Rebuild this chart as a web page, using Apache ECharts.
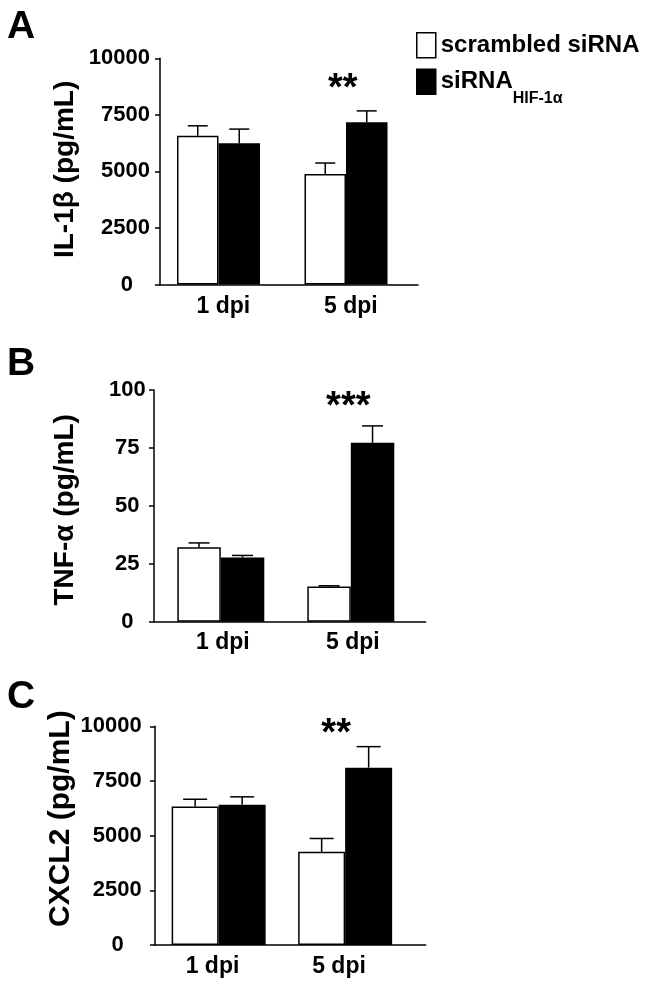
<!DOCTYPE html>
<html><head><meta charset="utf-8">
<script src="https://cdn.jsdelivr.net/npm/echarts@6/dist/echarts.min.js"></script>
<style>html,body{margin:0;padding:0;background:#fff}#c{width:646px;height:987px}</style>
</head><body><div id="c"></div>
<script>
// ---------- data ----------
const categories = ['1 dpi', '5 dpi'];
const seriesNames = ['scrambled siRNA', 'siRNA HIF-1α'];

const il1bScrambled = [6575, 4880];
const il1bScrambledErr = [440, 490];
const il1bHif = [6250, 7175];
const il1bHifErr = [620, 500];

const tnfScrambled = [32.1, 15.2];
const tnfScrambledErr = [1.9, 0.3];
const tnfHif = [27.7, 77.2];
const tnfHifErr = [0.9, 7.3];

const cxcl2Scrambled = [6330, 4260];
const cxcl2ScrambledErr = [335, 610];
const cxcl2Hif = [6410, 8110];
const cxcl2HifErr = [365, 960];

const il1bTicks = [0, 2500, 5000, 7500, 10000];
const tnfTicks = [0, 25, 50, 75, 100];
const cxcl2Ticks = [0, 2500, 5000, 7500, 10000];

const il1bSig = ['', '**'];
const tnfSig = ['', '***'];
const cxcl2Sig = ['', '**'];

const panelLetters = ['A', 'B', 'C'];
const yTitles = ['IL-1β (pg/mL)', 'TNF-α (pg/mL)', 'CXCL2 (pg/mL)'];

// ---------- layout / style ----------
const FONT = "'Liberation Sans', Arial, Helvetica, sans-serif";
const panels = [
  { ticks: il1bTicks, s: il1bScrambled, se: il1bScrambledErr, h: il1bHif, he: il1bHifErr, sig: il1bSig, title: yTitles[0], letter: panelLetters[0],
    frame: { left: 160, top: 58.3, width: 258, height: 226.2 }, bars: { left: 154.75, width: 255 },
    barW: 41.5, capW: 20, yl: { margin: 10, align: 'right', zeroPad: 17 }, nameGap: 81, nameSize: 28, namePad: [0, 0, 0, 4],
    xPad: [0, 0, 0, 9.6], xMargin: 11, star: { dx: -3.3, gap: 21 }, letterTop: 8 },
  { ticks: tnfTicks, s: tnfScrambled, se: tnfScrambledErr, h: tnfHif, he: tnfHifErr, sig: tnfSig, title: yTitles[1], letter: panelLetters[1],
    frame: { left: 154, top: 390, width: 271.7, height: 231.7 }, bars: { left: 155.8, width: 260 },
    barW: 43.5, capW: 21, yl: { margin: 26.7, align: 'center', zeroPad: 0 }, nameGap: 75, nameSize: 28, namePad: [0, 8, 0, 0],
    xPad: [0, 0, 0, 4], xMargin: 9, star: { dx: -2.5, gap: 18.6 }, letterTop: 345 },
  { ticks: cxcl2Ticks, s: cxcl2Scrambled, se: cxcl2ScrambledErr, h: cxcl2Hif, he: cxcl2HifErr, sig: cxcl2Sig, title: yTitles[2], letter: panelLetters[2],
    frame: { left: 155, top: 726.3, width: 270.7, height: 218.7 }, bars: { left: 155.4, width: 253 },
    barW: 47, capW: 24, yl: { margin: 13.3, align: 'right', zeroPad: 18 }, nameGap: 79, nameSize: 30, namePad: [0, 0, 0, 34],
    xPad: [0, 12.3, 0, 0], xMargin: 10.4, star: { dx: -9, gap: 12.1 }, letterTop: 678 }
];

const grid = [], xAxis = [], yAxis = [], series = [], graphic = [];

function errRender(sign, barW, capW, sig, star) {
  return function (params, api) {
    const cat = api.value(0), mean = api.value(1), err = api.value(2);
    const base = api.coord([cat, mean]);
    const top = api.coord([cat, mean + err]);
    const x = base[0] + sign * barW / 2;
    const st = { stroke: '#000', lineWidth: 1.5 };
    const children = [
      { type: 'line', shape: { x1: x, y1: base[1], x2: x, y2: top[1] }, style: st },
      { type: 'line', shape: { x1: x - capW / 2, y1: top[1], x2: x + capW / 2, y2: top[1] }, style: st }
    ];
    if (sig && sig[params.dataIndex]) {
      children.push({ type: 'text', style: { text: sig[params.dataIndex], x: base[0] + star.dx, y: top[1] - star.gap,
        align: 'center', verticalAlign: 'middle', font: 'bold 38px ' + FONT, fill: '#000' } });
    }
    return { type: 'group', children };
  };
}

panels.forEach((p, i) => {
  const fi = 2 * i, bi = 2 * i + 1;
  const mn = p.ticks[0], mx = p.ticks[p.ticks.length - 1], iv = p.ticks[1] - p.ticks[0];
  grid.push({ left: p.frame.left, top: p.frame.top, width: p.frame.width, height: p.frame.height, containLabel: false, outerBoundsMode: 'none' });
  grid.push({ left: p.bars.left, top: p.frame.top, width: p.bars.width, height: p.frame.height, containLabel: false, outerBoundsMode: 'none' });
  xAxis.push({ gridIndex: fi, type: 'value', min: 0, max: 1, axisLine: { show: true, onZero: false, lineStyle: { color: '#000', width: 1.5 } },
    axisTick: { show: false }, axisLabel: { show: false }, splitLine: { show: false } });
  xAxis.push({ gridIndex: bi, type: 'category', data: categories, axisLine: { show: false }, axisTick: { show: false }, splitLine: { show: false },
    axisLabel: { margin: p.xMargin, fontSize: 23, fontWeight: 'bold', fontFamily: FONT, color: '#000', padding: p.xPad } });
  yAxis.push({ gridIndex: fi, type: 'value', min: mn, max: mx, interval: iv,
    axisLine: { show: true, onZero: false, lineStyle: { color: '#000', width: 1.5 } },
    axisTick: { show: true, inside: false, length: 5, lineStyle: { color: '#000', width: 1.5 } },
    splitLine: { show: false },
    axisLabel: { margin: p.yl.margin, align: p.yl.align, fontSize: 22, fontWeight: 'bold', fontFamily: FONT, color: '#000',
      formatter: v => (v === 0 && p.yl.zeroPad ? '{z|0}' : String(v)),
      rich: { z: { padding: [0, p.yl.zeroPad, 0, 0], fontSize: 22, fontWeight: 'bold', fontFamily: FONT, color: '#000' } } },
    name: p.title, nameLocation: 'middle', nameGap: p.nameGap, nameMoveOverlap: false,
    nameTextStyle: { fontSize: p.nameSize, fontWeight: 'bold', fontFamily: FONT, color: '#000', padding: p.namePad } });
  yAxis.push({ gridIndex: bi, type: 'value', min: mn, max: mx, interval: iv, show: false });

  series.push({ name: seriesNames[0], type: 'bar', xAxisIndex: bi, yAxisIndex: bi, data: p.s, barWidth: p.barW, barGap: '0%',
    itemStyle: { color: '#fff', borderColor: '#000', borderWidth: 1.5 } });
  series.push({ name: seriesNames[1], type: 'bar', xAxisIndex: bi, yAxisIndex: bi, data: p.h, barWidth: p.barW, barGap: '0%',
    itemStyle: { color: '#000', borderColor: '#000', borderWidth: 1.5 } });
  series.push({ type: 'custom', xAxisIndex: bi, yAxisIndex: bi, z: 5, clip: false,
    data: categories.map((c, k) => [k, p.s[k], p.se[k]]), renderItem: errRender(-1, p.barW, p.capW, null, null) });
  series.push({ type: 'custom', xAxisIndex: bi, yAxisIndex: bi, z: 5, clip: false,
    data: categories.map((c, k) => [k, p.h[k], p.he[k]]), renderItem: errRender(1, p.barW, p.capW, p.sig, p.star) });

  graphic.push({ type: 'text', left: 7, top: p.letterTop, style: { text: p.letter, font: 'bold 39px ' + FONT, fill: '#000' } });
});

const option = {
  animation: false,
  backgroundColor: '#fff',
  grid, xAxis, yAxis, series, graphic,
  legend: {
    orient: 'vertical', left: 416, top: 32, padding: 0, itemWidth: 19, itemHeight: 25, itemGap: 10,
    selectedMode: false, icon: 'rect', data: seriesNames,
    itemStyle: { borderColor: '#000', borderWidth: 1.5 },
    textStyle: { fontSize: 24, fontWeight: 'bold', fontFamily: FONT, color: '#000', lineHeight: 25,
      rich: {
        a: { fontSize: 24, fontWeight: 'bold', fontFamily: FONT, color: '#000', lineHeight: 25, verticalAlign: 'top' },
        s: { fontSize: 16, fontWeight: 'bold', fontFamily: FONT, color: '#000', lineHeight: 16, padding: [21, 0, 0, 0], verticalAlign: 'top' }
      } },
    formatter: n => (n === seriesNames[1] ? '{a|siRNA}{s|HIF-1α}' : n)
  }
};

const chart = echarts.init(document.getElementById('c'), null, { renderer: 'canvas' });
chart.setOption(option);
</script>
</body></html>
